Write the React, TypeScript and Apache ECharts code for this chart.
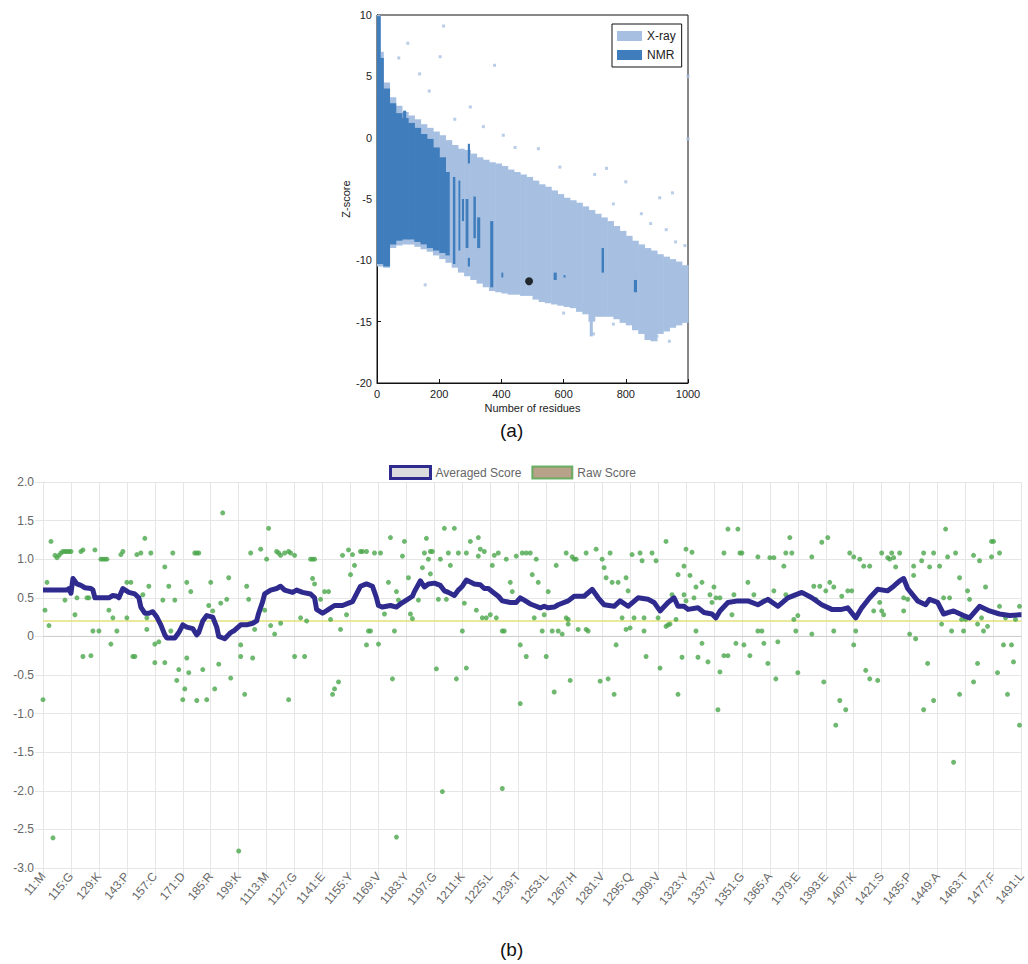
import React, { useEffect, useRef } from "react";
import * as echarts from "echarts";

// ---------- (a) Z-score plot ----------
// X-ray cloud: [residueStart, residueEnd, zLow, zHigh]
const xrayBands = [
  [0, 10, -10.5, 10], [10, 20, -10.5, 7], [20, 40, -10.6, 4.5], [40, 60, -9.0, 3.3],
  [60, 80, -8.8, 2.6], [80, 100, -8.7, 2.1], [100, 120, -8.7, 1.8], [120, 140, -8.9, 1.5],
  [140, 160, -9.1, 1.1], [160, 180, -9.3, 0.8], [180, 200, -9.6, 0.5], [200, 220, -9.9, 0.2],
  [220, 240, -10.2, -0.2], [240, 260, -10.6, -0.6], [260, 280, -11.0, -0.9], [280, 300, -11.3, -1.0],
  [300, 320, -11.6, -1.3], [320, 340, -11.9, -1.6], [340, 360, -12.2, -1.8], [360, 380, -12.5, -2.0],
  [380, 400, -12.6, -2.1], [400, 420, -12.7, -2.3], [420, 440, -12.8, -2.6], [440, 460, -12.8, -2.8],
  [460, 480, -12.9, -3.0], [480, 500, -12.9, -3.2], [500, 520, -13.2, -3.5], [520, 540, -13.4, -3.8],
  [540, 560, -13.5, -4.0], [560, 580, -13.6, -4.3], [580, 600, -13.7, -4.6], [600, 620, -13.8, -4.9],
  [620, 640, -13.9, -5.1], [640, 660, -14.2, -5.3], [660, 680, -14.4, -5.6], [680, 700, -15.0, -5.9],
  [700, 720, -14.6, -6.2], [720, 740, -14.6, -6.5], [740, 760, -14.6, -6.8], [760, 780, -14.8, -7.2],
  [780, 800, -15.1, -7.6], [800, 820, -15.3, -8.0], [820, 840, -15.7, -8.4], [840, 860, -16.0, -8.7],
  [860, 880, -16.5, -9.0], [880, 900, -16.6, -9.2], [900, 920, -16.0, -9.5], [920, 940, -15.8, -9.7],
  [940, 960, -15.5, -9.9], [960, 980, -15.3, -10.1], [980, 1000, -15.1, -10.4],
  [684, 692, -16.2, -14.0],
];

// NMR cloud: [residueStart, residueEnd, zLow, zHigh]
const nmrBands = [
  [0, 10, -10.3, 9.9], [10, 20, -10.3, 6.5], [20, 40, -10.5, 4.0], [40, 60, -8.7, 2.8],
  [60, 80, -8.4, 2.0], [80, 100, -8.3, 1.6], [100, 120, -8.3, 1.2], [120, 140, -8.5, 0.8],
  [140, 160, -8.7, 0.3], [160, 180, -9.0, -0.1], [180, 200, -9.2, -0.8], [200, 220, -9.4, -1.6],
  [220, 232, -9.6, -2.8], [84, 92, 0.9, 2.2], [244, 250, -10.3, -3.2], [262, 266, -9.2, -3.5],
  [273, 278, -6.8, -5.0], [285, 292, -9.0, -5.0], [292, 297, -2.1, -0.5], [292, 297, -10.5, -9.8],
  [310, 316, -8.2, -4.8], [322, 330, -9.0, -6.5], [364, 372, -12.2, -6.8], [400, 404, -11.4, -11.0],
  [568, 576, -11.6, -11.0], [600, 604, -11.4, -11.2], [722, 728, -11.0, -9.0], [826, 834, -12.6, -11.6],
];

// sparse X-ray points outside the dense cloud: [residues, z]
const xraySparse = [
  [214, 9.1], [99, 7.7], [70, 6.5], [203, 6.6], [378, 5.9], [137, 5.2], [1000, 5.0], [168, 3.8],
  [300, 2.5], [250, 1.5], [342, 0.9], [406, 0.2], [444, -0.8], [519, -0.9], [588, -2.4], [738, -2.5],
  [909, -4.9], [1000, -0.1], [155, -12.0], [850, -6.2], [880, -7.0], [930, -7.5], [960, -8.5],
  [990, -8.8], [700, -3.0], [800, -3.6], [760, -5.4], [950, -4.5], [900, -16.2], [940, -16.6],
  [696, -16.0], [600, -14.3], [760, -15.2],
];

// the query structure
const queryPoint = [[489, -11.7]];

// ---------- (b) per-residue score plot ----------
const tickLabels = [
  "11:M", "115:G", "129:K", "143:P", "157:C", "171:D", "185:R", "199:K", "1113:M", "1127:G",
  "1141:E", "1155:Y", "1169:V", "1183:Y", "1197:G", "1211:K", "1225:L", "1239:T", "1253:L", "1267:H",
  "1281:V", "1295:Q", "1309:V", "1323:Y", "1337:V", "1351:G", "1365:A", "1379:E", "1393:E", "1407:K",
  "1421:S", "1435:P", "1449:A", "1463:T", "1477:F", "1491:L",
];

// [residue index, averaged score]
const averagedScore = [
  [0, 0.6], [12, 0.6], [13, 0.62], [14, 0.56], [15, 0.75], [17, 0.68], [19, 0.66], [21, 0.63],
  [24, 0.62], [25, 0.6], [26, 0.5], [30, 0.5], [33, 0.5], [35, 0.53], [37, 0.52], [38, 0.5],
  [40, 0.62], [43, 0.57], [46, 0.55], [48, 0.5], [49, 0.38], [51, 0.3], [53, 0.3], [55, 0.32],
  [57, 0.25], [59, 0.15], [61, 0.02], [62, -0.02], [66, -0.02], [68, 0.05], [70, 0.15], [72, 0.12],
  [75, 0.1], [77, 0.02], [78, 0.05], [80, 0.2], [82, 0.27], [85, 0.25], [87, 0.12], [88, 0.0],
  [91, -0.03], [94, 0.05], [96, 0.08], [99, 0.15], [102, 0.15], [105, 0.17], [107, 0.2], [108, 0.3],
  [110, 0.45], [111, 0.55], [114, 0.6], [117, 0.62], [119, 0.65], [121, 0.6], [125, 0.57], [127, 0.6],
  [130, 0.57], [134, 0.55], [136, 0.5], [137, 0.35], [140, 0.3], [143, 0.35], [146, 0.4], [150, 0.4],
  [153, 0.43], [155, 0.45], [157, 0.55], [159, 0.65], [162, 0.68], [165, 0.65], [167, 0.5], [168, 0.4],
  [170, 0.38], [174, 0.4], [177, 0.38], [179, 0.42], [182, 0.47], [185, 0.52], [186, 0.58], [189, 0.72],
  [191, 0.64], [193, 0.68], [196, 0.69], [199, 0.66], [201, 0.59], [203, 0.57], [206, 0.53], [208, 0.6],
  [210, 0.65], [212, 0.73], [216, 0.68], [219, 0.67], [221, 0.62], [223, 0.62], [226, 0.56], [228, 0.52],
  [230, 0.46], [234, 0.44], [237, 0.44], [239, 0.5], [241, 0.47], [244, 0.42], [246, 0.4], [249, 0.37],
  [251, 0.39], [253, 0.37], [256, 0.38], [258, 0.41], [263, 0.46], [266, 0.52], [271, 0.52], [275, 0.61],
  [278, 0.5], [281, 0.41], [286, 0.39], [289, 0.46], [293, 0.39], [298, 0.5], [303, 0.48], [306, 0.44],
  [309, 0.33], [313, 0.44], [316, 0.5], [318, 0.39], [321, 0.39], [323, 0.35], [328, 0.37], [331, 0.31],
  [335, 0.29], [337, 0.24], [339, 0.33], [343, 0.44], [348, 0.46], [353, 0.46], [358, 0.41], [363, 0.48],
  [368, 0.39], [373, 0.5], [380, 0.57], [385, 0.5], [390, 0.41], [395, 0.35], [400, 0.35], [403, 0.37],
  [407, 0.24], [410, 0.37], [414, 0.5], [418, 0.61], [423, 0.59], [426, 0.65], [429, 0.72], [431, 0.75],
  [433, 0.62], [438, 0.46], [442, 0.41], [444, 0.48], [448, 0.44], [451, 0.29], [456, 0.33], [461, 0.27],
  [464, 0.24], [469, 0.39], [474, 0.33], [479, 0.29], [484, 0.27], [489, 0.28], [490, 0.28],
];

// [residue index, raw score]
const rawScore = [
  [0, -0.82], [1, 0.34], [2, 0.7], [3, 0.14], [4, 1.23], [5, -2.61], [6, 1.05], [7, 1.02], [8, 1.05],
  [9, 1.08], [10, 1.1], [11, 1.1], [11, 0.47], [12, 1.1], [13, 1.1], [14, 1.1], [16, 0.28], [17, 0.5],
  [19, 1.1], [20, 1.12], [20, -0.26], [22, 0.5], [23, 0.5], [24, -0.25], [25, 0.07], [26, 1.12], [28, 0.07],
  [29, 1.0], [30, 1.0], [31, 1.0], [32, 1.0], [33, 0.34], [34, -0.1], [35, 0.24], [37, 0.07], [39, 1.06],
  [40, 1.1], [42, 0.7], [42, 0.24], [44, 0.7], [45, -0.26], [46, -0.26], [47, 1.06], [49, 1.08], [50, 0.54],
  [51, 1.27], [52, 0.24], [52, 0.09], [53, 0.65], [54, 1.08], [56, -0.34], [56, -0.1], [58, -0.07], [60, 0.47],
  [61, -0.34], [61, 0.9], [63, 0.65], [64, 0.07], [65, 1.08], [66, 0.47], [67, -0.57], [68, -0.43], [70, -0.82],
  [71, -0.68], [72, -0.28], [72, 0.7], [73, -0.47], [74, 0.58], [76, 1.08], [77, 1.08], [78, 1.08], [77, -0.83],
  [82, -0.82], [80, -0.43], [83, 0.4], [84, 0.7], [85, 0.33], [86, -0.68], [88, -0.36], [89, 0.43], [90, 1.6],
  [92, 0.48], [93, 0.76], [94, -0.54], [98, -2.78], [99, -0.11], [99, -0.26], [101, -0.75], [102, 0.65],
  [103, 0.48], [104, 1.08], [105, -0.28], [106, 0.09], [109, 1.13], [111, 0.34], [112, 1.0], [113, 1.4],
  [114, 0.14], [116, 0.03], [119, 0.17], [117, 1.1], [118, 1.08], [119, 1.05], [121, 1.08], [123, 1.1],
  [124, 1.08], [126, 1.05], [123, -0.82], [126, -0.26], [131, -0.26], [129, 0.24], [132, 0.2], [134, 1.0],
  [135, 1.0], [136, 1.0], [135, 0.75], [136, 0.68], [139, 0.48], [141, 0.58], [143, 0.58], [144, 0.22],
  [145, -0.75], [146, -0.68], [148, -0.59], [149, 0.09], [150, 1.05], [152, 0.28], [153, 1.12], [155, 1.06],
  [154, 0.8], [156, 0.92], [159, 1.1], [160, 1.1], [162, 1.1], [162, -0.11], [168, -0.1], [163, 0.07],
  [164, 0.07], [166, 1.08], [169, 1.08], [171, 0.29], [173, 0.7], [174, 1.28], [175, -0.55], [176, 0.07],
  [177, 0.58], [178, 0.47], [180, 1.04], [177, -2.6], [181, 1.23], [183, 0.76], [184, 0.29], [185, 0.23],
  [188, 0.47], [190, 0.89], [192, 1.27], [191, 1.08], [194, 1.1], [195, 1.1], [193, 1.0], [194, 0.81],
  [197, -0.42], [198, 0.48], [199, 1.0], [200, -2.01], [201, 1.4], [206, 1.4], [202, 0.48], [204, 0.92],
  [203, 1.08], [207, -0.55], [208, 1.08], [210, 0.07], [211, 0.43], [212, -0.41], [212, 1.08], [214, 1.23],
  [218, 1.28], [217, 0.34], [218, 1.04], [219, 1.13], [221, 1.1], [220, 0.24], [222, 0.24], [224, 0.28],
  [225, 0.92], [227, 0.24], [226, 1.05], [228, 1.08], [230, -1.97], [230, 0.07], [231, 0.07], [232, 1.0],
  [234, 0.7], [235, 0.58], [237, 1.04], [239, -0.11], [239, -0.87], [240, 1.08], [242, 1.08], [242, -0.26],
  [244, 1.08], [245, 0.8], [246, 0.24], [248, 0.7], [247, 1.0], [250, 0.07], [252, -0.26], [251, 0.28],
  [253, 0.58], [255, 0.07], [256, -0.72], [257, 0.92], [258, 0.07], [260, 0.03], [263, 0.16], [264, -0.57],
  [262, 1.08], [265, 1.03], [266, 1.0], [267, 1.0], [272, 1.08], [277, 1.13], [263, 0.22], [262, 0.24],
  [268, 0.09], [272, 0.09], [280, 1.0], [281, 0.89], [282, 0.76], [285, 0.7], [288, 0.7], [284, 1.08],
  [290, 0.24], [292, 0.76], [293, 0.59], [295, 1.06], [299, 1.08], [300, 0.98], [296, 0.24], [301, 0.24],
  [292, 0.09], [294, 0.11], [305, 1.08], [307, 0.98], [308, 0.24], [312, 0.13], [313, 0.15], [317, 0.22],
  [312, 1.23], [321, 0.91], [322, 1.13], [315, 0.54], [321, 0.54], [318, 0.8], [273, 0.07], [279, -0.58],
  [283, -0.55], [286, -0.75], [287, -0.11], [301, 0.07], [302, -0.26], [309, -0.41], [314, 0.16],
  [318, -0.75], [320, -0.27], [327, 0.07], [328, -0.27], [330, -0.09], [333, -0.33], [338, -0.95],
  [339, -0.46], [341, -0.25], [343, -0.25], [347, -0.09], [351, -0.11], [354, -0.25], [358, 0.07],
  [360, 0.07], [361, -0.09], [363, -0.35], [367, -0.55], [368, -0.07], [377, 0.07], [378, -0.47],
  [385, 0.03], [391, -0.59], [396, 0.07], [397, -1.15], [399, -0.83], [402, -0.95], [406, -0.11],
  [407, 0.07], [412, -0.44], [414, -0.55], [418, -0.57], [434, 0.03], [437, -0.03], [441, -0.95],
  [443, -0.35], [446, -0.83], [450, 0.16], [455, 0.07], [456, -1.63], [459, -0.75], [461, 0.07],
  [466, -0.59], [468, -0.35], [468, 0.16], [471, 0.07], [473, 0.13], [478, -0.47], [481, -0.11],
  [483, -0.75], [485, -0.11], [486, -0.33], [489, -1.15], [322, 0.46], [324, 0.79], [325, 1.09],
  [326, 0.5], [327, 0.64], [330, 0.7], [334, 0.54], [335, 0.44], [336, 0.64], [337, 0.5], [339, 0.5],
  [341, 1.08], [343, 1.39], [348, 1.39], [345, 0.28], [346, 0.54], [349, 1.08], [350, 1.08], [353, 0.7],
  [356, 0.54], [358, 1.03], [361, 0.46], [364, 1.02], [366, 1.02], [366, 0.59], [371, 0.91], [372, 1.08],
  [375, 1.08], [372, 0.54], [374, 1.28], [376, 0.22], [378, 0.27], [385, 1.03], [386, 0.65], [389, 0.65],
  [387, 0.48], [390, 1.22], [393, 1.28], [392, 0.59], [394, 0.7], [396, 0.64], [400, 0.52], [403, 0.59],
  [405, 0.59], [404, 1.08], [406, 1.03], [409, 1.0], [411, 0.91], [414, 0.91], [416, 0.33], [419, 0.44],
  [420, 0.33], [421, 0.28], [420, 1.08], [423, 1.02], [424, 1.0], [426, 1.02], [425, 1.08], [429, 1.08],
  [427, 0.9], [431, 0.5], [433, 0.48], [431, 0.33], [436, 0.91], [436, 0.79], [440, 0.98], [441, 1.08],
  [444, 0.9], [446, 1.08], [449, 0.91], [451, 0.5], [454, 0.5], [452, 1.39], [453, 1.03], [457, 1.08],
  [459, 0.76], [460, 0.22], [462, 0.22], [463, 0.59], [464, 0.48], [466, 1.05], [469, 0.98], [470, 0.24],
  [472, 0.64], [475, 1.23], [476, 1.23], [475, 1.03], [479, 1.08], [479, 0.39], [489, 0.39], [482, 0.24],
  [487, 0.22],
];

const threshold = 0.2;

const FONT = "Liberation Sans, Arial, sans-serif";
const XRAY_COLOR = "#a7c0e2";
const NMR_COLOR = "#3f7dbd";
const AVG_COLOR = "#2f2b8e";
const RAW_COLOR = "#4ba64b";
const GRID_COLOR = "#e6e6e6";

function bandRenderer(color: string) {
  return (params: any, api: any) => {
    const a = api.coord([api.value(0), api.value(3)]);
    const b = api.coord([api.value(1), api.value(2)]);
    return {
      type: "rect",
      shape: { x: a[0], y: a[1], width: Math.max(b[0] - a[0], 1) + 0.6, height: b[1] - a[1] },
      style: { fill: color },
    };
  };
}

export default function App() {
  const ref = useRef<HTMLDivElement>(null);

  useEffect(() => {
    if (!ref.current) return;
    const chart = echarts.init(ref.current, undefined, { renderer: "svg" });
    const option: any = {
      animation: false,
      backgroundColor: "#ffffff",
      textStyle: { fontFamily: FONT },
      legend: [
        {
          data: ["X-ray", "NMR"],
          orient: "vertical",
          left: 612,
          top: 24,
          icon: "rect",
          itemWidth: 25,
          itemHeight: 10,
          itemGap: 7,
          padding: [6, 6, 6, 5],
          borderColor: "#111",
          borderWidth: 1,
          backgroundColor: "#fff",
          selectedMode: false,
          textStyle: { fontSize: 12, color: "#222", fontFamily: FONT },
        },
        {
          data: [
            { name: "Averaged Score", itemStyle: { color: "#dcdcdc", borderColor: AVG_COLOR, borderWidth: 3 } },
            { name: "Raw Score", itemStyle: { color: "#a68c6d", borderColor: RAW_COLOR, borderWidth: 2 } },
          ],
          left: 384,
          top: 460,
          icon: "rect",
          itemWidth: 40,
          itemHeight: 12,
          itemGap: 10,
          selectedMode: false,
          textStyle: { fontSize: 12, color: "#666", fontFamily: FONT },
        },
      ],
      grid: [
        { left: 377, top: 15, width: 311, height: 368, show: true, borderColor: "#111", borderWidth: 1 },
        { left: 43, top: 482, width: 981, height: 386 },
      ],
      xAxis: [
        {
          gridIndex: 0,
          type: "value",
          min: 0,
          max: 1000,
          interval: 200,
          name: "Number of residues",
          nameLocation: "middle",
          nameGap: 19,
          nameTextStyle: { fontSize: 11, color: "#222", fontFamily: FONT },
          axisLine: { show: true, onZero: false, lineStyle: { color: "#111" } },
          axisTick: { show: true, inside: true, length: 4, lineStyle: { color: "#111" } },
          axisLabel: { fontSize: 11, color: "#222", margin: 5, fontFamily: FONT, formatter: (v: number) => String(v) },
          splitLine: { show: false },
        },
        {
          gridIndex: 1,
          type: "value",
          min: 0,
          max: 490,
          interval: 14,
          axisLine: { show: true, onZero: false, lineStyle: { color: GRID_COLOR } },
          axisTick: { show: true, length: 8, lineStyle: { color: GRID_COLOR } },
          axisLabel: {
            fontSize: 12,
            color: "#666",
            rotate: 50,
            margin: 6,
            fontFamily: FONT,
            formatter: (v: number) => tickLabels[Math.round(v / 14)] ?? "",
          },
          splitLine: { show: true, lineStyle: { color: GRID_COLOR } },
        },
      ],
      yAxis: [
        {
          gridIndex: 0,
          type: "value",
          min: -20,
          max: 10,
          interval: 5,
          name: "Z-score",
          nameLocation: "middle",
          nameGap: 26,
          nameTextStyle: { fontSize: 11, color: "#222", fontFamily: FONT },
          axisLine: { show: true, onZero: false, lineStyle: { color: "#111" } },
          axisTick: { show: true, inside: true, length: 4, lineStyle: { color: "#111" } },
          axisLabel: { fontSize: 11, color: "#222", margin: 5, fontFamily: FONT },
          splitLine: { show: false },
        },
        {
          gridIndex: 1,
          type: "value",
          min: -3,
          max: 2,
          interval: 0.5,
          axisLine: { show: true, onZero: false, lineStyle: { color: GRID_COLOR } },
          axisTick: { show: true, length: 8, lineStyle: { color: GRID_COLOR } },
          axisLabel: {
            fontSize: 12,
            color: "#666",
            margin: 9,
            fontFamily: FONT,
            formatter: (v: number) => (Math.abs(v) < 1e-9 ? "0" : v.toFixed(1)),
          },
          splitLine: { show: true, lineStyle: { color: GRID_COLOR } },
        },
      ],
      series: [
        {
          name: "X-ray",
          type: "custom",
          xAxisIndex: 0,
          yAxisIndex: 0,
          renderItem: bandRenderer(XRAY_COLOR),
          itemStyle: { color: XRAY_COLOR },
          encode: { x: [0, 1], y: [2, 3] },
          data: xrayBands,
          z: 1,
        },
        {
          name: "xray-sparse",
          type: "scatter",
          xAxisIndex: 0,
          yAxisIndex: 0,
          symbol: "rect",
          symbolSize: 3,
          itemStyle: { color: XRAY_COLOR },
          data: xraySparse,
          z: 1,
        },
        {
          name: "NMR",
          type: "custom",
          xAxisIndex: 0,
          yAxisIndex: 0,
          renderItem: bandRenderer(NMR_COLOR),
          itemStyle: { color: NMR_COLOR },
          encode: { x: [0, 1], y: [2, 3] },
          data: nmrBands,
          z: 2,
        },
        {
          name: "query",
          type: "scatter",
          xAxisIndex: 0,
          yAxisIndex: 0,
          symbolSize: 8,
          itemStyle: { color: "#000" },
          data: queryPoint,
          z: 3,
        },
        {
          name: "zero",
          type: "line",
          xAxisIndex: 1,
          yAxisIndex: 1,
          data: [[0, 0], [490, 0]],
          showSymbol: false,
          lineStyle: { color: "#cccccc", width: 1 },
          silent: true,
          z: 1,
        },
        {
          name: "threshold",
          type: "line",
          xAxisIndex: 1,
          yAxisIndex: 1,
          data: [[0, threshold], [490, threshold]],
          showSymbol: false,
          lineStyle: { color: "#e3e27a", width: 1.5 },
          silent: true,
          z: 2,
        },
        {
          name: "Raw Score",
          type: "scatter",
          xAxisIndex: 1,
          yAxisIndex: 1,
          symbolSize: 5,
          itemStyle: { color: RAW_COLOR },
          data: rawScore,
          z: 3,
        },
        {
          name: "Averaged Score",
          type: "line",
          xAxisIndex: 1,
          yAxisIndex: 1,
          data: averagedScore,
          showSymbol: false,
          lineStyle: { color: AVG_COLOR, width: 5, join: "round" },
          itemStyle: { color: AVG_COLOR },
          z: 4,
        },
      ],
      graphic: [
        {
          type: "text",
          left: 500,
          top: 421,
          style: { text: "(a)", fontSize: 19, fill: "#111", font: "19px " + FONT },
        },
        {
          type: "text",
          left: 500,
          top: 940,
          style: { text: "(b)", fontSize: 19, fill: "#111", font: "19px " + FONT },
        },
      ],
    };
    chart.setOption(option);
    return () => chart.dispose();
  }, []);

  return (
    <div
      ref={ref}
      style={{ position: "fixed", left: 0, top: 0, width: 1028, height: 964, background: "#fff" }}
    />
  );
}
